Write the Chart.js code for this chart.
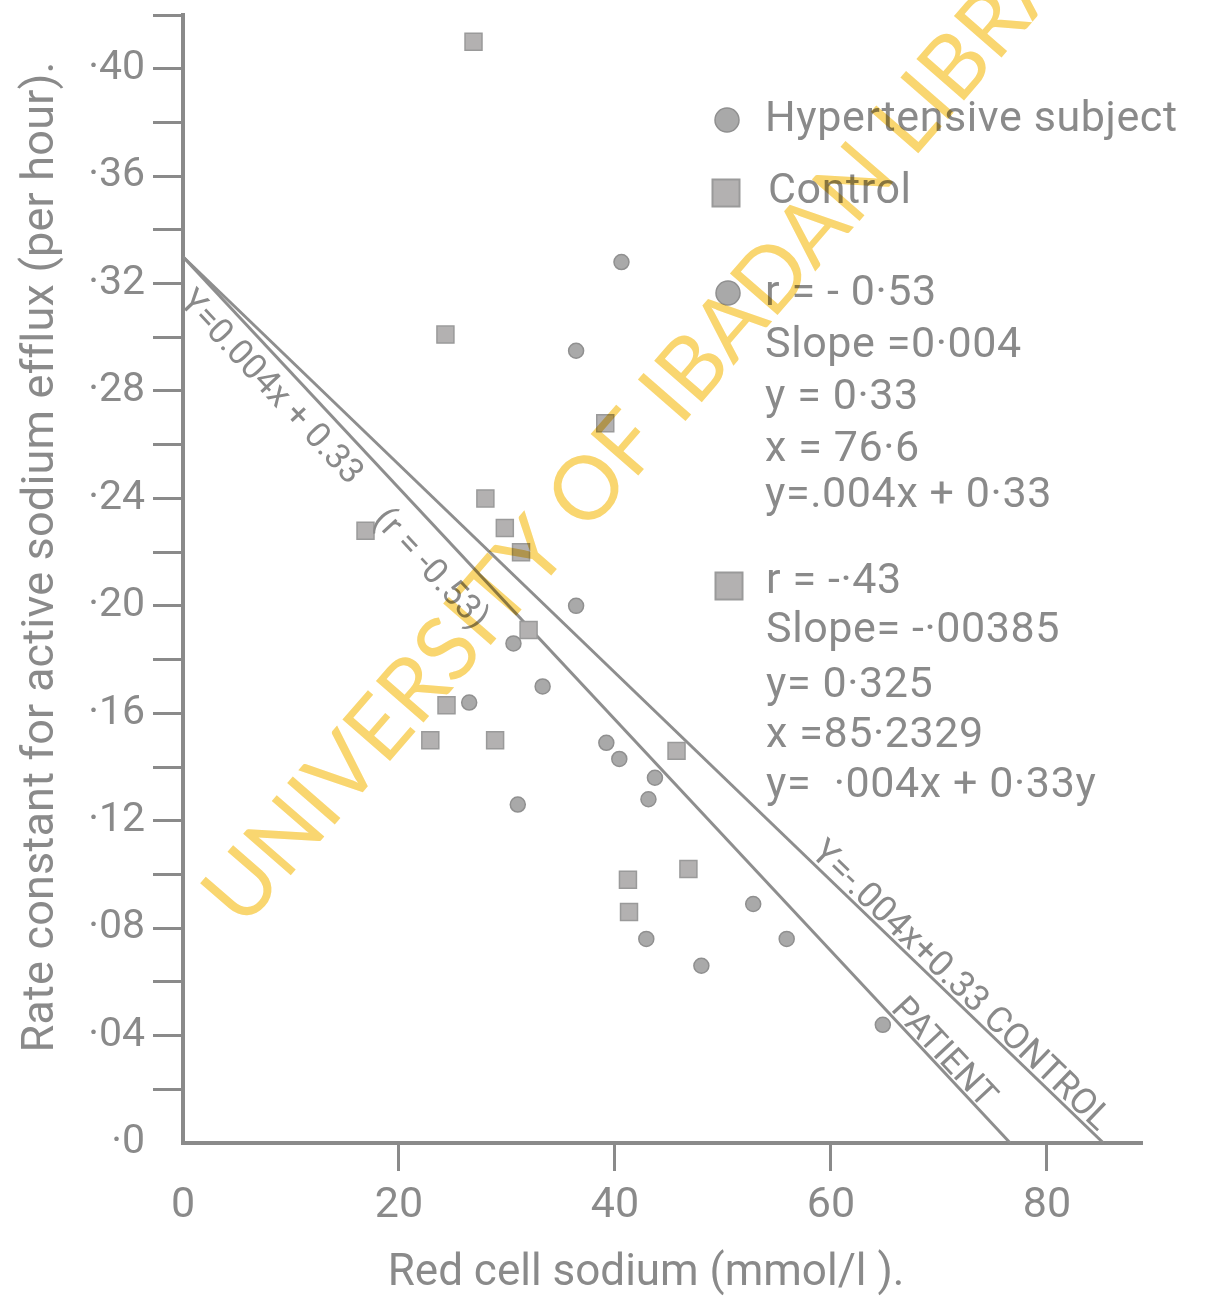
<!DOCTYPE html>
<html>
<head>
<meta charset="utf-8">
<script src="https://cdn.jsdelivr.net/npm/chart.js@4/dist/chart.umd.min.js"></script>
<style>
html,body{margin:0;padding:0;background:#ffffff;}
#wrap{width:1206px;height:1296px;position:relative;}
</style>
</head>
<body>
<div id="wrap"><canvas id="c" width="1206" height="1296"></canvas></div>
<script>
// ---- data ----
const hyperX = [40.6, 36.4, 36.4, 30.6, 26.5, 33.3, 39.2, 40.4, 43.7, 43.1, 31.0, 52.8, 42.9, 48.0, 55.9, 64.8];
const hyperY = [0.328, 0.295, 0.200, 0.186, 0.164, 0.170, 0.149, 0.143, 0.136, 0.128, 0.126, 0.089, 0.076, 0.066, 0.076, 0.044];
const controlX = [26.9, 24.3, 39.1, 28.0, 29.8, 16.9, 31.3, 32.0, 24.4, 22.9, 28.9, 45.7, 46.8, 41.2, 41.3];
const controlY = [0.410, 0.301, 0.268, 0.240, 0.229, 0.228, 0.220, 0.191, 0.163, 0.150, 0.150, 0.146, 0.102, 0.098, 0.086];
const patientLineX = [0, 76.6];
const patientLineY = [0.33, 0];
const controlLineX = [0, 85.2329];
const controlLineY = [0.33, 0];
const xTickValues = [0, 20, 40, 60, 80];
const yTickLabels = ['·0', '·04', '·08', '·12', '·16', '·20', '·24', '·28', '·32', '·36', '·40'];
const xTitle = 'Red cell sodium (mmol/l ).';
const yTitle = 'Rate constant for active sodium efflux (per hour).';
const legendLabels = ['Hypertensive subject', 'Control'];
const patientStats = ['r = - 0·53', 'Slope =0·004', 'y = 0·33', 'x = 76·6', 'y=.004x + 0·33'];
const controlStats = ['r = -·43', 'Slope= -·00385', 'y= 0·325', 'x =85·2329', 'y=  ·004x + 0·33y'];
const patientLineLabel = 'Y=0.004x + 0.33';
const patientRLabel = '(r = -0.53)';
const controlLineLabel = 'Y=-.004x+0.33 CONTROL';
const patientTag = 'PATIENT';
const watermark = 'UNIVERSITY OF IBADAN LIBRARY';

// ---- styling ----
const GRAY = '#8a8a8a';
const LINE = '#8e8e8e';
const FILL = '#a9a9a9';
const FONT = "Roboto, 'DejaVu Sans', sans-serif";
Chart.defaults.font.family = FONT;
Chart.defaults.color = GRAY;

const zip = (xs, ys) => xs.map((x, i) => ({x: x, y: ys[i]}));

function drawCircle(ctx, x, y, r) {
  ctx.beginPath(); ctx.arc(x, y, r, 0, Math.PI * 2);
  ctx.fillStyle = FILL; ctx.fill();
  ctx.lineWidth = 1.5; ctx.strokeStyle = '#909090'; ctx.stroke();
}
function drawSquare(ctx, x, y, s) {
  ctx.fillStyle = '#b3b1b1'; ctx.fillRect(x - s/2, y - s/2, s, s);
  ctx.lineWidth = 2; ctx.strokeStyle = '#9a9a9a'; ctx.strokeRect(x - s/2, y - s/2, s, s);
}

const annotate = {
  id: 'annotate',
  afterDatasetsDraw(chart) {
    const ctx = chart.ctx;
    const xs = chart.scales.x, ys = chart.scales.y;
    ctx.save();
    // axis titles
    ctx.fillStyle = GRAY;
    ctx.textAlign = 'center';
    ctx.textBaseline = 'middle';
    ctx.font = '44px ' + FONT;
    ctx.fillText(xTitle, 646, 1274);
    ctx.save();
    ctx.translate(42, 557);
    ctx.rotate(-Math.PI / 2);
    ctx.font = '45px ' + FONT;
    ctx.letterSpacing = '0.2px';
    ctx.fillText(yTitle, 0, 0);
    ctx.restore();

    // legend + stats block
    drawCircle(ctx, 727, 120, 12);
    drawSquare(ctx, 726, 193, 27);
    drawCircle(ctx, 728, 293, 12);
    drawSquare(ctx, 729, 586, 27);
    ctx.fillStyle = GRAY;
    ctx.font = '43px ' + FONT;
    ctx.letterSpacing = '0.6px';
    ctx.textBaseline = 'middle';
    ctx.textAlign = 'left';
    ctx.fillText(legendLabels[0], 765, 120);
    ctx.fillText(legendLabels[1], 768, 192);
    const pY = [294, 346, 398, 450, 496];
    patientStats.forEach((t, i) => ctx.fillText(t, 765, pY[i]));
    const cY = [582, 631, 686, 736, 786];
    controlStats.forEach((t, i) => ctx.fillText(t, 766, cY[i]));
    ctx.letterSpacing = '0px';

    // labels along the fitted lines
    function along(lx, ly, text, dist, off, base, size) {
      const p0 = {x: xs.getPixelForValue(lx[0]), y: ys.getPixelForValue(ly[0])};
      const p1 = {x: xs.getPixelForValue(lx[1]), y: ys.getPixelForValue(ly[1])};
      const a = Math.atan2(p1.y - p0.y, p1.x - p0.x);
      ctx.save();
      ctx.translate(p0.x, p0.y);
      ctx.rotate(a);
      ctx.font = size + 'px ' + FONT;
      ctx.textBaseline = base;
      ctx.fillStyle = GRAY;
      ctx.fillText(text, dist, off);
      ctx.restore();
    }
    along(patientLineX, patientLineY, patientLineLabel, 30, 35, 'alphabetic', 35);
    along(patientLineX, patientLineY, patientRLabel, 322, 42, 'alphabetic', 35);
    along(controlLineX, controlLineY, controlLineLabel, 866, -4, 'alphabetic', 36);
    along(patientLineX, patientLineY, patientTag, 1033, -3, 'alphabetic', 35);
    ctx.restore();
  },
  afterDraw(chart) {
    const ctx = chart.ctx;
    ctx.save();
    ctx.globalCompositeOperation = 'multiply';
    ctx.fillStyle = '#f9d670';
    ctx.font = '88px Lato, ' + FONT;
    ctx.textBaseline = 'alphabetic';
    ctx.translate(243, 930);
    ctx.rotate(-49 * Math.PI / 180);
    ctx.fillText(watermark, 0, 0);
    ctx.restore();
  }
};

new Chart(document.getElementById('c'), {
  type: 'scatter',
  data: {
    datasets: [
      {
        label: legendLabels[0], data: zip(hyperX, hyperY),
        pointStyle: 'circle', pointRadius: 7.5, pointHoverRadius: 7.5,
        backgroundColor: FILL, borderColor: '#909090', borderWidth: 1.5
      },
      {
        label: legendLabels[1], data: zip(controlX, controlY),
        pointStyle: 'rect', pointRadius: 12, pointHoverRadius: 12,
        backgroundColor: '#b3b1b1', borderColor: '#9a9a9a', borderWidth: 1.5
      },
      {
        type: 'line', label: 'Patient fit', data: zip(patientLineX, patientLineY),
        showLine: true, pointRadius: 0, borderColor: LINE, borderWidth: 3, fill: false
      },
      {
        type: 'line', label: 'Control fit', data: zip(controlLineX, controlLineY),
        showLine: true, pointRadius: 0, borderColor: LINE, borderWidth: 3, fill: false
      }
    ]
  },
  options: {
    responsive: false,
    animation: false,
    devicePixelRatio: 1,
    layout: {padding: {top: 15, right: 64, left: 0, bottom: 0}},
    plugins: {legend: {display: false}, tooltip: {enabled: false}},
    scales: {
      x: {
        type: 'linear', min: 0, max: 88.8,
        afterBuildTicks: s => { s.ticks = xTickValues.map(v => ({value: v})); },
        afterFit: s => { s.height = 153; s.paddingLeft = 0; s.paddingRight = 0; },
        border: {display: true, color: GRAY, width: 4},
        grid: {
          display: true, drawOnChartArea: false, drawTicks: true,
          tickLength: 28, tickWidth: 3,
          tickColor: c => (c.tick && c.tick.value === 0) ? 'rgba(0,0,0,0)' : GRAY
        },
        ticks: {color: GRAY, font: {size: 43}, padding: 9, maxRotation: 0, autoSkip: false,
                callback: v => String(v)},
        title: {display: false, text: xTitle}
      },
      y: {
        type: 'linear', min: 0, max: 0.42,
        afterFit: s => { s.width = 183; s.paddingTop = 0; s.paddingBottom = 0; },
        border: {display: true, color: GRAY, width: 4},
        grid: {
          display: true, drawOnChartArea: false, drawTicks: true,
          tickLength: 30, tickWidth: 3,
          tickColor: c => (c.tick && Math.abs(c.tick.value) < 1e-9) ? 'rgba(0,0,0,0)' : GRAY
        },
        ticks: {
          stepSize: 0.02, color: GRAY, font: {size: 41}, padding: 8, autoSkip: false,
          callback: v => {
            const k = Math.round(v * 100);
            return (k % 4 === 0) ? (yTickLabels[k / 4] || '') : '';
          }
        },
        title: {display: false, text: yTitle}
      }
    }
  },
  plugins: [annotate]
});
</script>
</body>
</html>
